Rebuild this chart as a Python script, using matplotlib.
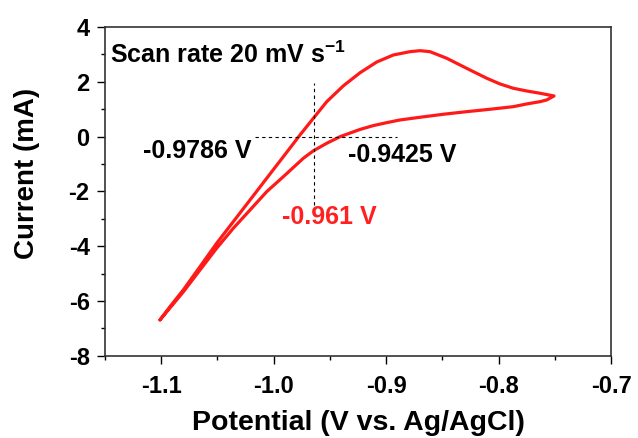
import matplotlib
matplotlib.use("Agg")
import matplotlib.pyplot as plt
from matplotlib.ticker import MultipleLocator

plt.rcParams['font.family'] = ['Liberation Sans', 'DejaVu Sans']
plt.rcParams['font.weight'] = 'bold'
plt.rcParams['axes.unicode_minus'] = False
plt.rcParams['mathtext.fontset'] = 'custom'
plt.rcParams['mathtext.rm'] = 'Liberation Sans:bold'
plt.rcParams['mathtext.bf'] = 'Liberation Sans:bold'
plt.rcParams['mathtext.default'] = 'rm'

# Anodic branch (from the -1.1 V vertex to the -0.75 V vertex)
upper_potential = [-1.1011, -1.0922, -1.0804, -1.0655, -1.0507, -1.0359, -1.0210,
                   -1.0062, -0.9914, -0.9766, -0.9647, -0.9528, -0.9381, -0.9232,
                   -0.9084, -0.8936, -0.8787, -0.8699, -0.8610, -0.8461, -0.8343,
                   -0.8224, -0.8105, -0.7987, -0.7869, -0.7750, -0.7631, -0.7507]
upper_current = [-6.693, -6.208, -5.599, -4.748, -3.894, -3.106, -2.314,
                 -1.522, -0.734, 0.058, 0.668, 1.274, 1.850, 2.330,
                 2.720, 2.978, 3.099, 3.135, 3.099, 2.858, 2.613,
                 2.369, 2.128, 1.920, 1.763, 1.664, 1.580, 1.482]
# Cathodic branch (from the -0.75 V vertex back to the -1.1 V vertex)
lower_potential = [-0.7507, -0.7572, -0.7631, -0.7750, -0.7869, -0.8076, -0.8283,
                   -0.8491, -0.8699, -0.8876, -0.8995, -0.9114, -0.9232, -0.9410,
                   -0.9528, -0.9647, -0.9736, -0.9914, -1.0062, -1.0210, -1.0359,
                   -1.0507, -1.0655, -1.0804, -1.0922, -1.1011]
lower_current = [1.482, 1.336, 1.274, 1.190, 1.091, 0.996, 0.909,
                 0.814, 0.704, 0.606, 0.507, 0.400, 0.260, -0.004,
                 -0.245, -0.520, -0.792, -1.464, -2.011, -2.679, -3.347,
                 -4.077, -4.869, -5.672, -6.255, -6.693]

potential = upper_potential + lower_potential[1:]
current = upper_current + lower_current[1:]

x_ticks = [-1.1, -1.0, -0.9, -0.8, -0.7]
y_ticks = [-8, -6, -4, -2, 0, 2, 4]

hline_x = [-1.0166, -0.8906]
vline_x = -0.9645
vline_y = [-2.5, 1.95]

fig = plt.figure(figsize=(6.38, 4.38), dpi=100)
ax = fig.add_axes([0.1646, 0.1879, 0.7931, 0.7505])

ax.plot(potential, current, color='#ff1a1a', lw=2.3, solid_joinstyle='round',
        solid_capstyle='round')

ax.plot(hline_x, [0, 0], color='black', lw=0.8, ls=(0, (3, 3)))
ax.plot([vline_x, vline_x], vline_y, color='black', lw=0.8, ls=(0, (3, 3)))

ax.set_xlim(-1.15, -0.7)
ax.set_ylim(-8, 4)
ax.set_xticks(x_ticks)
ax.set_xticklabels(['%.1f' % v for v in x_ticks])
ax.set_yticks(y_ticks)
ax.xaxis.set_minor_locator(MultipleLocator(0.05))
ax.yaxis.set_minor_locator(MultipleLocator(1))

ax.tick_params(which='major', direction='out', length=6, width=1.0, labelsize=17,
               top=False, right=False)
ax.tick_params(which='minor', direction='out', length=3, width=1.0, top=False, right=False)
ax.tick_params(axis='x', which='major', pad=8)
ax.tick_params(axis='y', which='major', pad=5)
for s in ax.spines.values():
    s.set_linewidth(1.2)
    s.set_color('#333333')

ax.set_xlabel('Potential (V vs. Ag/AgCl)', fontsize=20.5, fontweight='bold', va='top')
ax.xaxis.set_label_coords(0.501, -0.165)
ax.set_ylabel('Current (mA)', fontsize=20, fontweight='bold', va='center')
ax.yaxis.set_label_coords(-0.154, 0.554)

ax.text(-1.1456, 2.98, r'Scan rate 20 mV s$^{-1}$', fontsize=18, fontweight='bold',
        ha='left', va='center')
ax.text(-1.1162, -0.51, '-0.9786 V', fontsize=18, fontweight='bold', ha='left', va='center')
ax.text(-0.9342, -0.68, '-0.9425 V', fontsize=18, fontweight='bold', ha='left', va='center')
ax.text(-0.9928, -2.95, '-0.961 V', fontsize=18, fontweight='bold', ha='left', va='center',
        color='#ff2020')

fig.savefig('out.png', dpi=100)
